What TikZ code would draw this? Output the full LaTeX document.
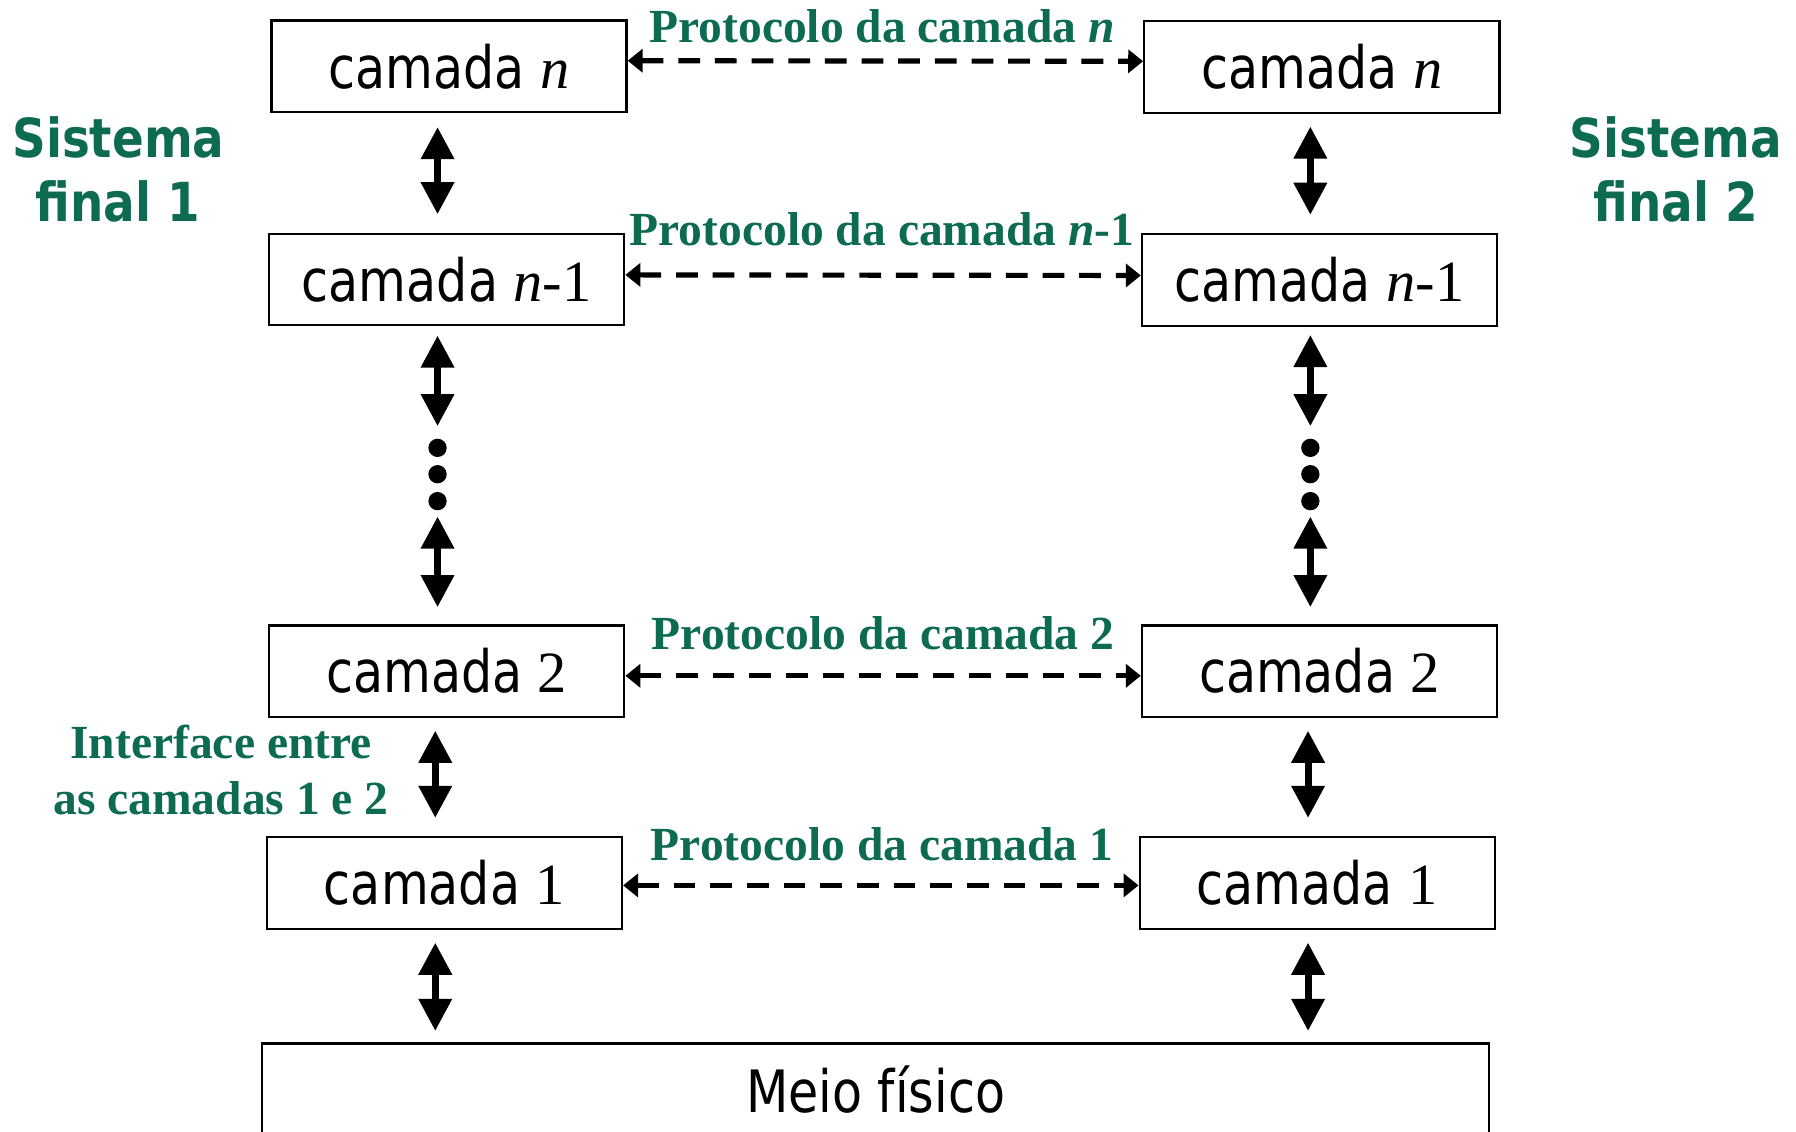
\documentclass[tikz,border=0pt]{standalone}
\usepackage{fontspec}
\setmainfont{Liberation Serif}
\newfontfamily\boxsans[FakeStretch=0.84]{DejaVu Sans}
\newfontfamily\syssans[FakeStretch=0.87]{DejaVu Sans}
\usetikzlibrary{arrows.meta}
\definecolor{lblgreen}{RGB}{12,107,80}
\begin{document}
\begin{tikzpicture}[x=1pt,y=-1pt,
  layer/.style={draw=black, line width=2pt, minimum width=310pt, minimum height=80pt, inner sep=0pt, font=\boxsans\fontsize{51}{60}\selectfont},
  varrow/.style={line width=6pt, {Triangle[width=28pt,length=28pt]}-{Triangle[width=28pt,length=28pt]}},
  harrow/.style={line width=4.5pt, dash pattern=on 19pt off 13pt, {Triangle[width=20pt,length=13pt]}-{Triangle[width=20pt,length=13pt]}},
  proto/.style={text=lblgreen, font=\bfseries\fontsize{41.5}{48}\selectfont, anchor=base, inner sep=0pt},
  sys/.style={text=lblgreen, font=\syssans\bfseries\fontsize{47}{55}\selectfont, anchor=base, inner sep=0pt},
  dotnode/.style={circle, fill=black, minimum size=16pt, inner sep=0pt}
]
\useasboundingbox (0,0) rectangle (1568,988);

% layer boxes
\node[layer] (Ln)  at (392,58)    {camada \textrm{\textit{n}}};
\node[layer] (Ln1) at (390,244)   {camada \textrm{\textit{n}-1}};
\node[layer] (L2)  at (390,586)   {camada \textrm{2}};
\node[layer] (L1)  at (388,771)   {camada \textrm{1}};
\node[layer] (Rn)  at (1154,58.5) {camada \textrm{\textit{n}}};
\node[layer] (Rn1) at (1152,244.5){camada \textrm{\textit{n}-1}};
\node[layer] (R2)  at (1152,586)  {camada \textrm{2}};
\node[layer] (R1)  at (1150,771)  {camada \textrm{1}};
\node[draw=black, line width=2pt, minimum width=1071pt, minimum height=80pt, inner sep=0pt,
      font=\boxsans\fontsize{51}{60}\selectfont] (Meio) at (764.5,951) {Meio físico};

% dots
\node[dotnode] (Ld1) at (382,391) {};
\node[dotnode] (Ld2) at (382,414) {};
\node[dotnode] (Ld3) at (382,437.5) {};
\node[dotnode] (Rd1) at (1144,391) {};
\node[dotnode] (Rd2) at (1144,414) {};
\node[dotnode] (Rd3) at (1144,437.5) {};

% vertical arrows, left
\draw[varrow] ([xshift=-10pt,yshift=-12pt]Ln.south) -- ([xshift=-8pt,yshift=16pt]Ln1.north);
\draw[varrow] ([xshift=-8pt,yshift=-8pt]Ln1.south) -- ([yshift=19pt]Ld1.center);
\draw[varrow] ([yshift=-13.5pt]Ld3.center) -- ([xshift=-8pt,yshift=15pt]L2.north);
\draw[varrow] ([xshift=-10pt,yshift=-11pt]L2.south) -- ([xshift=-8pt,yshift=16pt]L1.north);
\draw[varrow] ([xshift=-8pt,yshift=-11pt]L1.south) -- ([xshift=-384.5pt,yshift=10pt]Meio.north);
% vertical arrows, right
\draw[varrow] ([xshift=-10pt,yshift=-11pt]Rn.south) -- ([xshift=-8pt,yshift=16pt]Rn1.north);
\draw[varrow] ([xshift=-8pt,yshift=-7pt]Rn1.south) -- ([yshift=19pt]Rd1.center);
\draw[varrow] ([yshift=-13.5pt]Rd3.center) -- ([xshift=-8pt,yshift=15pt]R2.north);
\draw[varrow] ([xshift=-10pt,yshift=-11pt]R2.south) -- ([xshift=-8pt,yshift=16pt]R1.north);
\draw[varrow] ([xshift=-8pt,yshift=-11pt]R1.south) -- ([xshift=377.5pt,yshift=10pt]Meio.north);

% protocol arrows
\draw[harrow] ([yshift=5pt]Ln.east) -- ([yshift=5pt]Rn.west);
\draw[harrow] ([yshift=4pt]Ln1.east) -- ([yshift=4pt]Rn1.west);
\draw[harrow] ([yshift=-4pt]L2.east) -- ([yshift=-4pt]R2.west);
\draw[harrow] ([yshift=-2pt]L1.east) -- ([yshift=-2pt]R1.west);

% labels
\node[proto] (Pn)  at (770,37)  {Protocolo da camada \textit{n}};
\node[proto] (Pn1) at (770,214) {Protocolo da camada \textit{n}-1};
\node[proto] (P2)  at (771,567) {Protocolo da camada 2};
\node[proto] (P1)  at (770,751) {Protocolo da camada 1};
\node[proto] (I1)  at (193,662) {Interface entre};
\node[proto] (I2)  at (193,711.5) {as camadas 1 e 2};

\node[sys] (S1a) at (103.4,137.4) {Sistema};
\node[sys] (S1b) at (103.2,193.5) {final 1};
\node[sys] (S2a) at (1463,137.4) {Sistema};
\node[sys] (S2b) at (1463,193.5) {final 2};
\end{tikzpicture}
\end{document}
